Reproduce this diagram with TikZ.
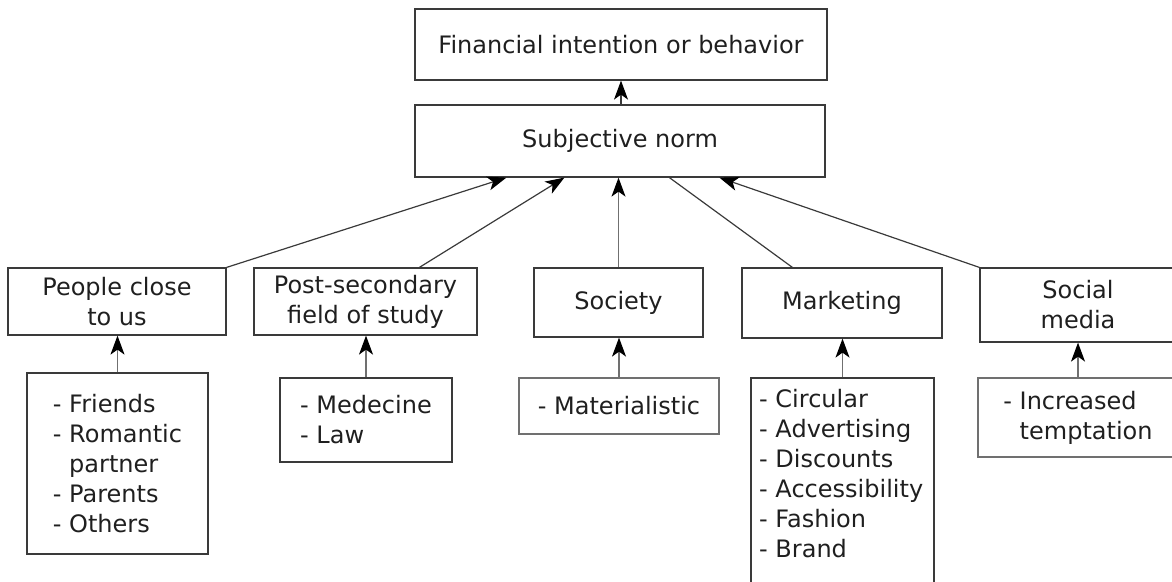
\documentclass[tikz,border=0pt]{standalone}
\usepackage{fontspec}
\setmainfont{DejaVu Sans}
\usetikzlibrary{arrows.meta,calc}
\definecolor{boxcol}{HTML}{3A3A3A}
\definecolor{lightcol}{HTML}{707070}
\begin{document}
\begin{tikzpicture}[x=1pt,y=-1pt,
  font=\fontsize{24}{30}\selectfont,
  box/.style={draw=boxcol, line width=1.2pt, inner sep=0pt, align=center, text=black!88},
  lightbox/.style={box, draw=lightcol},
  listtext/.style={inner sep=0pt, align=left, text=black!88},
  conn/.style={draw=boxcol, line width=1.2pt},
  arr/.style={conn, -{Stealth[length=19pt, width=14pt, inset=5pt, color=black]}},
  lightarr/.style={arr, draw=lightcol, line width=1.4pt}
]
\useasboundingbox (0,0) rectangle (1172,581);
\clip (0,0) rectangle (1172,581);

% top boxes
\node[box, minimum width=412pt, minimum height=71pt] (fin) at (621,44.5) {Financial intention or behavior};
\node[box, minimum width=410pt, minimum height=72pt] (subj) at (620,141) {Subjective norm};

% middle boxes
\node[box, minimum width=218pt, minimum height=67pt] (people) at (117,301.5) {People close\\to us};
\node[box, minimum width=223pt, minimum height=67pt] (post) at (365.5,301.5) {Post-secondary\\field of study};
\node[box, minimum width=169pt, minimum height=69pt] (soc) at (618.5,302.5) {Society};
\node[box, minimum width=200pt, minimum height=70pt] (mkt) at (842,303) {Marketing};
\node[box, minimum width=196pt, minimum height=74pt] (sm) at (1078,305) {Social\\media};

% bottom boxes
\node[box, align=left, minimum width=181pt, minimum height=181pt] (friends) at (117.5,463.5)
  {- Friends\\- Romantic\\\phantom{- }partner\\- Parents\\- Others};
\node[box, align=left, minimum width=172pt, minimum height=84pt] (med) at (366,420)
  {- Medecine\\- Law};
\node[lightbox, minimum width=200pt, minimum height=56pt] (mat) at (619,406) {- Materialistic};
\node[box, minimum width=183pt, minimum height=232pt] (mktlist) at (842.5,494) {};
\node[listtext, anchor=north west] (mkttxt) at (759,389)
  {- Circular\\- Advertising\\- Discounts\\- Accessibility\\- Fashion\\- Brand};
\node[lightbox, align=left, minimum width=200pt, minimum height=79pt] (inc) at (1078,417.5)
  {- Increased\\\phantom{- }temptation};

% anchor points on the subjective-norm box
\coordinate (s1) at ($(subj.south west)+(92,0)$);
\coordinate (s2) at ($(subj.south west)+(150,0)$);
\coordinate (s4) at ($(subj.south west)+(255,0)$);
\coordinate (s5) at ($(subj.south west)+(305,0)$);
\coordinate (p2) at ($(post.north west)+(166,0)$);
\coordinate (m1) at ($(mkt.north west)+(51,0)$);

% connectors
\draw[arr] (subj.north -| fin.south) -- (fin.south);
\draw[arr] (people.north east) -- (s1);
\draw[arr] (p2) -- (s2);
\draw[lightarr] (soc.north) -- (soc.north |- subj.south);
\draw[conn] (m1) -- (s4);
\draw[arr] (sm.north west) -- (s5);

\draw[lightarr] (friends.north) -- (friends.north |- people.south);
\draw[lightarr] (med.north) -- (med.north |- post.south);
\draw[lightarr] (mat.north) -- (mat.north |- soc.south);
\draw[lightarr] (mktlist.north) -- (mktlist.north |- mkt.south);
\draw[lightarr] (inc.north) -- (inc.north |- sm.south);
\end{tikzpicture}
\end{document}
